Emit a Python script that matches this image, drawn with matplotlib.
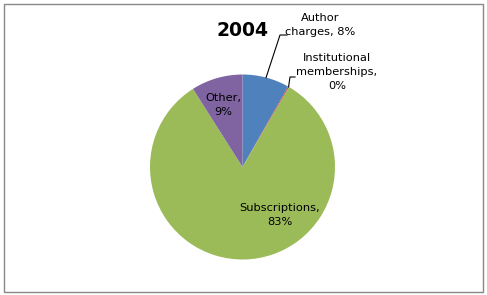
import matplotlib.pyplot as plt
import numpy as np
from matplotlib.patches import Rectangle

# data (2004 revenue mix)
categories = ["Author charges", "Institutional memberships", "Subscriptions", "Other"]
shares = [8.2, 0.2, 82.6, 9.0]
pct_labels = ["8%", "0%", "83%", "9%"]
colors = ["#4F81BD", "#C0504D", "#9BBB59", "#8064A2"]

W, H = 487, 295
fig = plt.figure(figsize=(W / 100, H / 100), dpi=100)
plt.rcParams['font.family'] = ['DejaVu Sans']

# pie centered at (242.5, 167) px, radius 92.5 px
cx, cy, r = 242.5, 167, 92.5
ax = fig.add_axes([(cx - r) / W, (H - cy - r) / H, 2 * r / W, 2 * r / H])
wedges, _ = ax.pie(shares, colors=colors, startangle=90, counterclock=False,
                   wedgeprops=dict(linewidth=0))
ax.set_xlim(-1, 1)
ax.set_ylim(-1, 1)
ax.axis('off')

# frame around chart
fig.add_artist(Rectangle((3.5 / W, 3.5 / H), 479.5 / W, 288 / H, transform=fig.transFigure,
                         fill=False, edgecolor="#888888", linewidth=1))

fig.text(242 / W, 1 - 31 / H, "2004", ha='center', va='center', fontsize=13.5, fontweight='bold')

def px(x, y):
    return (x - cx) / r, (cy - y) / r

def edge_point(w):
    a = np.deg2rad((w.theta1 + w.theta2) / 2)
    return np.cos(a), np.sin(a)

fs = 8.2
ls = 1.5
# inside labels
tx, ty = px(280, 215)
ax.text(tx, ty, categories[2] + ",\n" + pct_labels[2], ha='center', va='center', fontsize=fs,
        linespacing=ls)
tx, ty = px(223, 105)
ax.text(tx, ty, categories[3] + ",\n" + pct_labels[3], ha='center', va='center', fontsize=fs,
        linespacing=ls)

# outside labels with leader lines
tx, ty = px(320, 25)
ax.text(tx, ty, "Author\ncharges, " + pct_labels[0], ha='center', va='center', fontsize=fs,
        linespacing=ls, clip_on=False)
ex, ey = edge_point(wedges[0])
a1, b1 = px(280, 35)
a2, b2 = px(287, 35)
ax.plot([ex, a1, a2], [ey, b1, b2], color='black', lw=0.8, clip_on=False)

tx, ty = px(337, 72)
ax.text(tx, ty, "Institutional\nmemberships,\n" + pct_labels[1], ha='center', va='center',
        fontsize=fs, linespacing=ls, clip_on=False)
ex, ey = edge_point(wedges[1])
a1, b1 = px(290, 77)
a2, b2 = px(295, 77)
ax.plot([ex, a1, a2], [ey, b1, b2], color='black', lw=0.8, clip_on=False)

fig.savefig("out.png", dpi=100)
